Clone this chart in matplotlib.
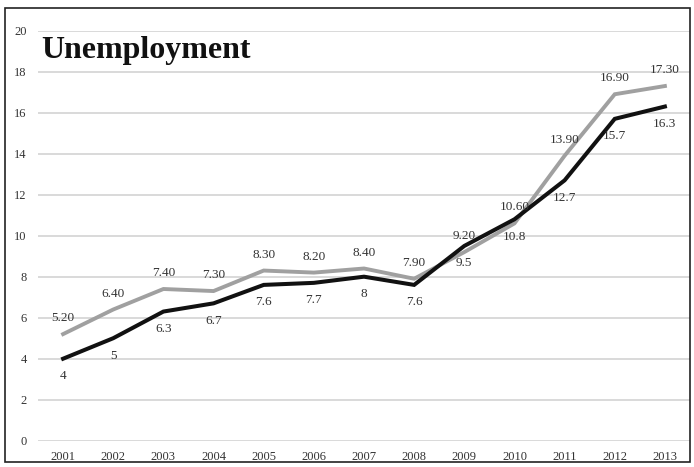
import matplotlib
matplotlib.use("Agg")
import matplotlib.pyplot as plt
from matplotlib.patches import Rectangle

years = ["2001", "2002", "2003", "2004", "2005", "2006", "2007",
         "2008", "2009", "2010", "2011", "2012", "2013"]
gray_series = [5.2, 6.4, 7.4, 7.3, 8.3, 8.2, 8.4, 7.9, 9.2, 10.6, 13.9, 16.9, 17.3]
black_series = [4, 5, 6.3, 6.7, 7.6, 7.7, 8, 7.6, 9.5, 10.8, 12.7, 15.7, 16.3]
gray_labels = ["5.20", "6.40", "7.40", "7.30", "8.30", "8.20", "8.40",
               "7.90", "9.20", "10.60", "13.90", "16.90", "17.30"]
black_labels = ["4", "5", "6.3", "6.7", "7.6", "7.7", "8",
                "7.6", "9.5", "10.8", "12.7", "15.7", "16.3"]
yticks = [0, 2, 4, 6, 8, 10, 12, 14, 16, 18, 20]

plt.rcParams['font.family'] = ['Liberation Serif', 'DejaVu Serif']

fig = plt.figure(figsize=(6.94, 4.67), dpi=100)
ax = fig.add_axes([0.0548, 0.0563, 0.9394, 0.878])

x = list(range(len(years)))
ax.plot(x, gray_series, color="#a0a0a0", lw=2.8, solid_joinstyle="miter", zorder=3)
ax.plot(x, black_series, color="#111111", lw=2.9, solid_joinstyle="miter", zorder=4)

for xi, v, lab in zip(x, gray_series, gray_labels):
    ax.annotate(lab, (xi, v), xytext=(0, 11.5), textcoords="offset points",
                ha="center", va="center", fontsize=9.5, color="#333333", zorder=5)
for xi, v, lab in zip(x, black_series, black_labels):
    ax.annotate(lab, (xi, v), xytext=(0, -12.5), textcoords="offset points",
                ha="center", va="center", fontsize=9.5, color="#333333", zorder=5)

ax.set_xlim(-0.5, len(years) - 0.5)
ax.set_ylim(0, 20)
ax.set_yticks(yticks)
ax.set_yticklabels([str(t) for t in yticks])
ax.set_xticks(x)
ax.set_xticklabels(years)
ax.tick_params(axis="both", length=0, labelsize=9, labelcolor="#333333")
ax.tick_params(axis="y", pad=8)
ax.tick_params(axis="x", pad=7.5)
ax.grid(axis="y", color="#cfcfcf", lw=1.1)
ax.set_axisbelow(True)
for s in ax.spines.values():
    s.set_visible(False)

ax.text(0.005, 0.988, "Unemployment", transform=ax.transAxes, ha="left", va="top",
        fontsize=23, fontweight="bold", color="#111111")

fig.patches.append(Rectangle((5 / 694, 5 / 467), 685 / 694, 454 / 467,
                             transform=fig.transFigure, fill=False,
                             edgecolor="#222222", lw=1.2))

fig.savefig("out.png", dpi=100)
